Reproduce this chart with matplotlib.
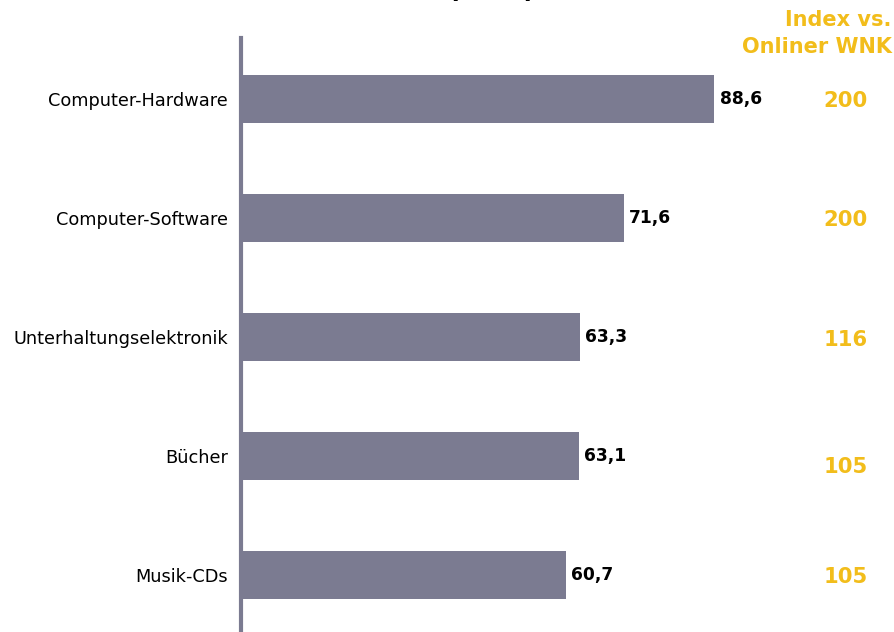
import matplotlib
matplotlib.use("Agg")
import matplotlib.pyplot as plt

categories = ["Computer-Hardware", "Computer-Software", "Unterhaltungselektronik",
              "Bücher", "Musik-CDs"]
values = [88.6, 71.6, 63.3, 63.1, 60.7]
index_values = [200, 200, 116, 105, 105]
index_offsets = [0.02, 0.02, 0.03, 0.09, 0.02]  # small vertical shifts of the index column

bar_color = "#7b7b91"
gold = "#f2bd1b"

plt.rcParams["font.family"] = ["DejaVu Sans"]

fig = plt.figure(figsize=(8.95, 6.32), dpi=100)
W, H = 895, 632
ax = fig.add_axes([241 / W, 0, 1 - 241 / W, (632 - 38) / H])

y = list(range(len(categories)))
ax.barh(y, values, height=0.40, color=bar_color, left=0.4)
ax.set_xlim(0, 123)
ax.set_ylim(4.48, -0.51)

for s in ["top", "right", "bottom"]:
    ax.spines[s].set_visible(False)
ax.spines["left"].set_color(bar_color)
ax.spines["left"].set_linewidth(3)
ax.set_xticks([])
ax.set_yticks(y)
ax.set_yticklabels(categories, fontsize=12.8)
ax.tick_params(axis="y", length=0, pad=9.5)

for yi, v in zip(y, values):
    ax.text(v + 0.4 + 1.0, yi, f"{v:.1f}".replace(".", ","), va="center", ha="left",
            fontsize=12.3, fontweight="bold", color="black")

for yi, iv, off in zip(y, index_values, index_offsets):
    ax.text(113.7, yi + off, str(iv), va="center", ha="center",
            fontsize=15.2, fontweight="bold", color=gold)

fig.text(891 / W, 1 - 20 / H, "Index vs.", ha="right", va="center",
         fontsize=15, fontweight="bold", color=gold)
fig.text(892 / W, 1 - 47 / H, "Onliner WNK", ha="right", va="center",
         fontsize=15, fontweight="bold", color=gold)

# chart title, sitting mostly above the visible area
fig.text(492 / W, 1 + 3 / H, "(in %)", ha="center", va="baseline",
         fontsize=19, fontweight="bold", color="black")

fig.savefig("out.png", dpi=100)
